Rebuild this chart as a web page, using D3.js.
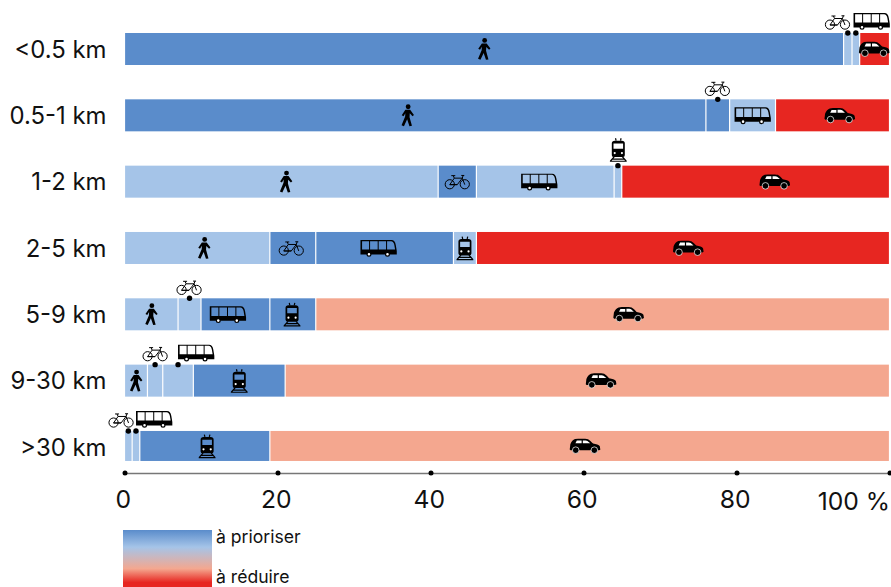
<!DOCTYPE html>
<html lang="fr">
<head>
<meta charset="utf-8">
<title>Modes de transport par distance</title>
<script src="https://cdn.jsdelivr.net/npm/d3@7/dist/d3.min.js"></script>
<style>
  html, body { margin: 0; padding: 0; background: #fff; }
  svg { display: block; }
  text { font-family: Inter, "Noto Sans", sans-serif; fill: #111; }
</style>
</head>
<body>
<svg id="chart" width="891" height="587"></svg>
<script>
// Distance classes, top to bottom
const distances = ["<0.5 km", "0.5-1 km", "1-2 km", "2-5 km", "5-9 km", "9-30 km", ">30 km"];
const modes = ["walk", "bike", "bus", "train", "car"];

// Share of each mode (%) per distance class
const walkShare  = [94, 76, 41, 19, 7, 3, 0];
const bikeShare  = [1.1, 3.1, 5, 6, 3, 2, 1];
const busShare   = [1, 6, 18, 18, 9, 4, 1];
const trainShare = [0, 0, 1, 3, 6, 12, 17];
const carShare   = [3.9, 14.9, 35, 54, 75, 79, 81];

// Policy class per mode: p = prioritise strongly, l = prioritise, s = reduce, r = reduce strongly
const walkClass  = ["p", "p", "l", "l", "l", "l", "l"];
const bikeClass  = ["l", "p", "p", "p", "l", "l", "l"];
const busClass   = ["l", "l", "l", "p", "p", "l", "l"];
const trainClass = ["l", "l", "l", "l", "p", "p", "p"];
const carClass   = ["r", "r", "r", "r", "s", "s", "s"];

// Where each pictogram stands along the percentage axis
const walkIconAt  = [47, 37, 21.1, 10.4, 3.5, 1.5, 0];
const bikeIconAt  = [93.2, 77.5, 43.5, 21.8, 8.44, 4, -0.45];
const busIconAt   = [97.65, 82.1, 54.2, 33.2, 13.5, 9.35, 3.86];
const trainIconAt = [0, 0, 64.55, 44.5, 21.9, 15, 10.8];
const carIconAt   = [98, 93.5, 85, 73.7, 65.9, 62.3, 60.2];

// Modes whose pictogram sits above the bar, with a leader dot, per distance class
const calloutModes = [["bike", "bus"], ["bike"], ["train"], [], ["bike"], ["bike", "bus"], ["bike", "bus"]];

const classColor = { p: "#5a8ccb", l: "#a5c4e8", s: "#f4a78f", r: "#e72621" };
const xTicks = [0, 20, 40, 60, 80, 100];
const legendLabels = ["à prioriser", "à réduire"];

const shareByMode = { walk: walkShare, bike: bikeShare, bus: busShare, train: trainShare, car: carShare };
const classByMode = { walk: walkClass, bike: bikeClass, bus: busClass, train: trainClass, car: carClass };
const iconAtByMode = { walk: walkIconAt, bike: bikeIconAt, bus: busIconAt, train: trainIconAt, car: carIconAt };

const svg = d3.select("#chart");
const x = d3.scaleLinear().domain([0, 100]).range([124.5, 889.5]);
const y = d3.scaleBand().domain(distances).range([33, 463]).paddingInner(0.517).paddingOuter(0);
const barH = 32;

// Pictograms, each drawn around its own centre
const defs = svg.append("defs");

const bike = defs.append("g").attr("id", "icon-bike");
bike.append("path")
  .attr("d", "M-7.5 3 L-3 -3.5 H5 L0 3 Z M-3 -3.5 L-4 -6 M-6 -6 H-2 M0 3 H-7.5 M5 -3.5 L7.5 3 M4 -6.2 H7 M5.9 -6.2 L5 -3.5")
  .attr("fill", "none").attr("stroke", "#000").attr("stroke-width", 1);
[-7.5, 7.5].forEach(cx => bike.append("circle")
  .attr("cx", cx).attr("cy", 2.6).attr("r", 4.6)
  .attr("fill", "none").attr("stroke", "#000").attr("stroke-width", 1));

const bus = defs.append("g").attr("id", "icon-bus");
bus.append("path")
  .attr("fill-rule", "evenodd")
  .attr("d", "M-18 -8 H13 Q16.5 -8 17.3 -3 L18.3 3 V6.5 H-18 Z M-16.4 -6.8 V1.6 H-9.4 V-6.8 Z M-8.4 -6.8 V1.6 H-0.8 V-6.8 Z M0.2 -6.8 V1.6 H7.6 V-6.8 Z M8.6 -6.8 V1.6 H16.6 L15.8 -3.2 Q15 -6.8 12.6 -6.8 Z")
  .attr("fill", "#000");
[-9.5, 9].forEach(cx => bus.append("circle")
  .attr("cx", cx).attr("cy", 6.3).attr("r", 1.9)
  .attr("fill", "#fff").attr("stroke", "#000").attr("stroke-width", 1.2));

const car = defs.append("g").attr("id", "icon-car");
car.append("path")
  .attr("d", "M-15.3 3.5 L-14.7 -1.7 C-13.5 -4.5 -12 -6.3 -10 -6.9 C-6 -7.4 0 -7.4 3 -6.8 C5 -5.8 6.5 -4 8 -2.4 C11 -1.8 14 -1 14.8 0.4 L15.3 3.7 L14 4.4 H-14.5 Z")
  .attr("fill", "#000");
car.append("path")
  .attr("d", "M-9.6 -2.6 L-8.2 -5.4 H-3.4 V-2.6 Z M-2.2 -5.5 C0 -5.5 1.5 -5.4 2.4 -5 L5.2 -2.6 H-2.2 Z")
  .attr("fill", "#fff");
[-9.3, 9.3].forEach(cx => car.append("circle")
  .attr("cx", cx).attr("cy", 4.2).attr("r", 3.3)
  .attr("fill", "#000").attr("stroke", "#fff").attr("stroke-width", 0.7));

const train = defs.append("g").attr("id", "icon-train");
train.append("path")
  .attr("fill-rule", "evenodd")
  .attr("d", "M-6.5 -6.5 Q-6.5 -9 -3.5 -9 H3.5 Q6.5 -9 6.5 -6.5 V5.5 Q6.5 7.4 4 7.4 H-4 Q-6.5 7.4 -6.5 5.5 Z M-4.8 -6.2 V-1 H4.8 V-6.2 Z")
  .attr("fill", "#000");
train.append("path")
  .attr("d", "M-2.2 -9 L-2.8 -11.4 M2.2 -9 L2.8 -11.4 M-4 7 L-8 11.6 M4 7 L8 11.6 M-8.4 11.6 H8.4 M-6 9.4 H6")
  .attr("fill", "none").attr("stroke", "#000").attr("stroke-width", 1.2);
[-3.6, 3.6].forEach(cx => train.append("circle")
  .attr("cx", cx).attr("cy", 3.4).attr("r", 1.1).attr("fill", "#fff"));

const walk = defs.append("g").attr("id", "icon-walk");
walk.append("circle").attr("cx", 0.6).attr("cy", -8.6).attr("r", 2.4).attr("fill", "#000");
walk.append("path")
  .attr("d", "M-2.2 -5.6 H2.6 L6.4 -0.4 L5 0.8 L2.2 -2 L2 1.8 L4.4 10.4 L1.9 10.8 L-0.4 4 L-3.6 10.8 L-6 9.8 L-2.4 1.2 L-2.2 -2.2 L-4 0.8 L-5.8 -0.2 Z")
  .attr("fill", "#000");

// Vertical placement of callout pictograms relative to their leader dot
const calloutRise = { bike: -11, bus: -12, train: -16 };

const rows = svg.append("g").selectAll("g").data(distances).join("g")
  .attr("transform", d => `translate(0,${y(d)})`);

rows.each(function (dist, i) {
  const row = d3.select(this);
  let cum = 0;
  modes.forEach(mode => {
    const share = shareByMode[mode][i];
    const x0 = x(cum), x1 = x(cum + share);
    cum += share;
    if (share <= 0) return;
    const h = dist === ">30 km" ? barH - 2 : barH;
    row.append("rect")
      .attr("x", x0 + 0.6).attr("y", 0)
      .attr("width", Math.max(0, x1 - x0 - 1.2)).attr("height", h)
      .attr("fill", classColor[classByMode[mode][i]]);
    const iconX = x(iconAtByMode[mode][i]);
    if (calloutModes[i].includes(mode)) {
      row.append("circle").attr("cx", (x0 + x1) / 2).attr("cy", 0).attr("r", 2.7).attr("fill", "#000");
      row.append("use").attr("href", `#icon-${mode}`)
        .attr("transform", `translate(${iconX},${calloutRise[mode]})`);
    } else {
      row.append("use").attr("href", `#icon-${mode}`)
        .attr("transform", `translate(${iconX},${h / 2})`);
    }
  });
  row.append("text")
    .attr("x", 106.5).attr("y", barH / 2).attr("dy", "0.36em")
    .attr("text-anchor", "end").attr("font-size", 23.9).text(dist);
});

// Percentage axis
const axis = d3.axisBottom(x).tickValues(xTicks)
  .tickSize(0).tickPadding(17)
  .tickFormat(d => d === 100 ? "100 %" : d);
const axisG = svg.append("g").attr("transform", "translate(0,473)").call(axis);
axisG.select(".domain").attr("stroke", "#777").attr("stroke-width", 1.5);
axisG.selectAll(".tick text")
  .attr("font-size", 24.7).attr("font-family", "Inter, sans-serif").attr("fill", "#111")
  .attr("text-anchor", d => d === 100 ? "end" : "middle")
  .attr("dx", d => d === 100 ? 0 : -1.8);
axisG.selectAll(".tick").filter(d => d === 100).select("text").attr("y", 19);
axisG.selectAll(".tick").append("circle").attr("r", 2.5).attr("fill", "#000");

// Legend ramp
const grad = defs.append("linearGradient").attr("id", "ramp")
  .attr("x1", 0).attr("x2", 0).attr("y1", 0).attr("y2", 1);
[[0, classColor.p], [0.3, classColor.l], [0.68, classColor.s], [0.92, classColor.r], [1, classColor.r]]
  .forEach(([o, c]) => grad.append("stop").attr("offset", o).attr("stop-color", c));
svg.append("rect").attr("x", 123).attr("y", 530).attr("width", 89).attr("height", 57).attr("fill", "url(#ramp)");
svg.selectAll(".legend-label").data(legendLabels).join("text")
  .attr("class", "legend-label")
  .attr("x", 216).attr("y", (d, i) => i === 0 ? 543 : 582.5)
  .attr("font-size", 17.6).text(d => d);
</script>
</body>
</html>
